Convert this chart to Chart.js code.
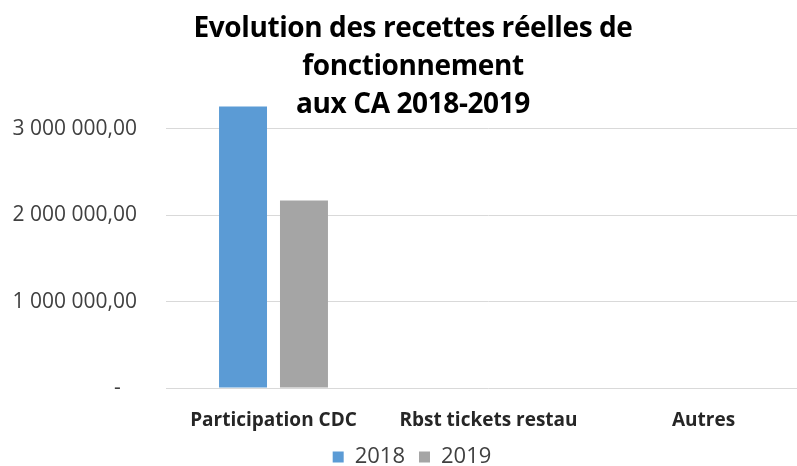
<!DOCTYPE html>
<html>
<head>
<meta charset="utf-8">
<script src="https://cdn.jsdelivr.net/npm/chart.js@4.4.1/dist/chart.umd.min.js"></script>
<style>
  html, body { margin: 0; padding: 0; background: #ffffff; overflow: hidden; }
  #wrap { width: 832px; height: 466px; }
</style>
</head>
<body>
<div id="wrap"><canvas id="c" width="832" height="466"></canvas></div>
<script>
const categories = ['Participation CDC', 'Rbst tickets restau', 'Autres'];
const seriesNames = ['2018', '2019'];
const values2018 = [3260000, 0, 0];
const values2019 = [2170000, 0, 0];
const yTicks = [0, 1000000, 2000000, 3000000];
const titleLines = ['Evolution des recettes réelles de', 'fonctionnement', 'aux CA 2018-2019'];

function fmt(v) {
  if (v === 0) return '-   ';
  return Math.round(v).toString().replace(/\B(?=(\d{3})+(?!\d))/g, ' ') + ',00';
}

const titlePlugin = {
  id: 'multiTitle',
  afterDraw(chart) {
    const ctx = chart.ctx;
    ctx.save();
    ctx.font = "bold 28px 'Open Sans', sans-serif";
    try { ctx.letterSpacing = '-0.4px'; } catch (e) {}
    ctx.fillStyle = '#000000';
    ctx.textAlign = 'center';
    ctx.textBaseline = 'alphabetic';
    const baselines = [37, 75, 113];
    titleLines.forEach((t, i) => ctx.fillText(t, 413, baselines[i]));
    ctx.restore();
  }
};

Chart.defaults.font.family = "'Open Sans', sans-serif";

new Chart(document.getElementById('c'), {
  type: 'bar',
  data: {
    labels: categories,
    datasets: [
      { label: seriesNames[0], data: values2018, backgroundColor: '#5b9bd5', borderWidth: 0 },
      { label: seriesNames[1], data: values2019, backgroundColor: '#a5a5a5', borderWidth: 0 }
    ]
  },
  options: {
    responsive: false,
    animation: false,
    layout: { padding: { top: 103, left: 13, right: 21, bottom: -12 } },
    datasets: { bar: { categoryPercentage: 0.567, barPercentage: 0.787 } },
    scales: {
      x: {
        grid: { display: false },
        border: { display: false },
        afterFit(scale) { scale.height = 44; },
        ticks: { color: '#262626', font: { size: 19, weight: 'bold' }, padding: 13, maxRotation: 0 }
      },
      y: {
        min: 0,
        max: 3300000,
        afterBuildTicks(scale) { scale.ticks = yTicks.map(v => ({ value: v })); },
        afterFit(scale) { scale.width = 153; },
        grid: { color: '#d9d9d9', lineWidth: 1, drawTicks: false },
        border: { display: false },
        ticks: { color: '#404040', font: { size: 21 }, padding: 29, callback: (v) => fmt(v) }
      }
    },
    plugins: {
      title: { display: false },
      tooltip: { enabled: false },
      legend: {
        position: 'bottom',
        labels: { color: '#404040', font: { size: 22 }, boxWidth: 11, boxHeight: 11, padding: 14 }
      }
    }
  },
  plugins: [titlePlugin]
});
</script>
</body>
</html>
